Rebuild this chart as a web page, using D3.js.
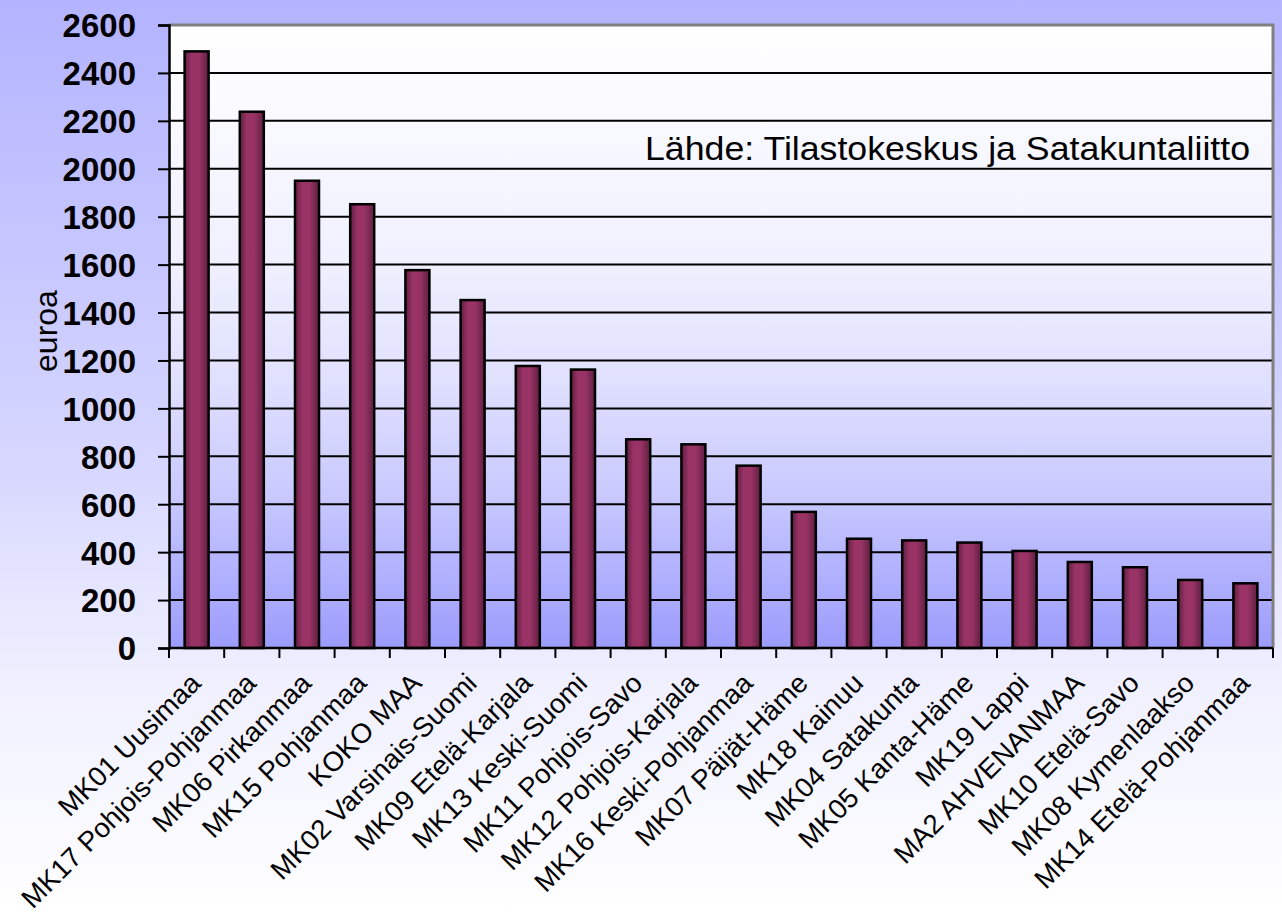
<!DOCTYPE html>
<html>
<head>
<meta charset="utf-8">
<script src="https://cdn.jsdelivr.net/npm/d3@7"></script>
<style>
html,body{margin:0;padding:0;}
body{width:1282px;height:915px;overflow:hidden;}
svg{display:block;font-family:"Liberation Sans",Arial,sans-serif;}
</style>
</head>
<body>
<svg id="chart" width="1282" height="915"></svg>
<script>
const categories = ["MK01 Uusimaa","MK17 Pohjois-Pohjanmaa","MK06 Pirkanmaa","MK15 Pohjanmaa","KOKO MAA","MK02 Varsinais-Suomi","MK09 Etelä-Karjala","MK13 Keski-Suomi","MK11 Pohjois-Savo","MK12 Pohjois-Karjala","MK16 Keski-Pohjanmaa","MK07 Päijät-Häme","MK18 Kainuu","MK04 Satakunta","MK05 Kanta-Häme","MK19 Lappi","MA2 AHVENANMAA","MK10 Etelä-Savo","MK08 Kymenlaakso","MK14 Etelä-Pohjanmaa"];
const values = [2490,2238,1950,1852,1577,1452,1177,1162,871,850,761,568,456,449,440,405,359,337,284,270];
const yTicks = [0,200,400,600,800,1000,1200,1400,1600,1800,2000,2200,2400,2600];
const yTitle = "euroa";
const sourceNote = "Lähde: Tilastokeskus ja Satakuntaliitto";

const svg = d3.select("#chart");
const W = 1282, H = 915;
const L = 169, R = 1273, T = 25, B = 648;

const defs = svg.append("defs");
const bg = defs.append("linearGradient").attr("id","bgGrad").attr("x1",0).attr("y1",0).attr("x2",0).attr("y2",1);
[[0,"#b3b3ff"],[0.5,"#d6d6ff"],[0.75,"#f0f0ff"],[1,"#ffffff"]].forEach(s=>bg.append("stop").attr("offset",s[0]).attr("stop-color",s[1]));
const pg = defs.append("linearGradient").attr("id","plotGrad").attr("x1",0).attr("y1",0).attr("x2",0).attr("y2",1);
[[0,"#ffffff"],[0.38,"#f0f0ff"],[0.57,"#e0e0ff"],[0.65,"#d6d6ff"],[0.76,"#c8c8ff"],[0.84,"#b8b8ff"],[1,"#9c9cfc"]].forEach(s=>pg.append("stop").attr("offset",s[0]).attr("stop-color",s[1]));
const bgGrad = defs.append("linearGradient").attr("id","barGrad").attr("x1",0).attr("y1",0).attr("x2",1).attr("y2",0);
[[0,"#5e1f3f"],[0.3,"#993366"],[0.6,"#993366"],[1,"#5e1f3f"]].forEach(s=>bgGrad.append("stop").attr("offset",s[0]).attr("stop-color",s[1]));

svg.append("rect").attr("width",W).attr("height",H).attr("fill","url(#bgGrad)");

const x = d3.scaleBand().domain(categories).range([L,R]).paddingInner(0.565).paddingOuter(0.2825);
const y = d3.scaleLinear().domain([0,2600]).range([B,T]);

svg.append("rect").attr("x",L).attr("y",T).attr("width",R-L).attr("height",B-T).attr("fill","url(#plotGrad)");

// gridlines
svg.append("g").selectAll("line").data(yTicks.filter(d=>d>0 && d<2600)).join("line")
  .attr("x1",L).attr("x2",R).attr("y1",d=>y(d)).attr("y2",d=>y(d))
  .attr("stroke","#000").attr("stroke-width",2);

// source note
svg.append("text").attr("x",1250).attr("y",160).attr("text-anchor","end")
  .attr("font-size",34).attr("textLength",605).attr("lengthAdjust","spacingAndGlyphs")
  .attr("fill","#000").text(sourceNote);

// plot border top/right
svg.append("path").attr("d",`M${L},${T}H${R}V${B}`).attr("fill","none").attr("stroke","#808080").attr("stroke-width",3);

// bars
svg.append("g").selectAll("rect").data(values).join("rect")
  .attr("x",(d,i)=>x(categories[i]))
  .attr("y",d=>y(d))
  .attr("width",x.bandwidth())
  .attr("height",d=>B-y(d))
  .attr("fill","url(#barGrad)").attr("stroke","#000").attr("stroke-width",2.5);

// y axis
const yAxis = d3.axisLeft(y).tickValues(yTicks).tickSize(11).tickPadding(22).tickFormat(d3.format("d"));
const ya = svg.append("g").attr("transform",`translate(${L},0)`).call(yAxis);
ya.select(".domain").attr("stroke","#000").attr("stroke-width",2.5);
ya.selectAll(".tick line").attr("stroke","#000").attr("stroke-width",2);
ya.selectAll(".tick text").attr("font-size",33).attr("font-weight","bold").attr("fill","#000")
  .attr("font-family","'Liberation Sans',Arial,sans-serif").attr("dy","0.36em");

// x axis line and band-boundary ticks
svg.append("line").attr("x1",L).attr("x2",R).attr("y1",B).attr("y2",B).attr("stroke","#000").attr("stroke-width",2.5);
const bounds = d3.range(categories.length+1).map(i=>L + i*x.step());
svg.append("g").selectAll("line").data(bounds).join("line")
  .attr("x1",d=>d).attr("x2",d=>d).attr("y1",B).attr("y2",B+10)
  .attr("stroke","#000").attr("stroke-width",2);

// category labels
svg.append("g").selectAll("text").data(categories).join("text")
  .attr("transform",d=>`translate(${x(d)+x.bandwidth()/2-1},678) rotate(-45)`)
  .attr("text-anchor","end").attr("dy","0.35em")
  .attr("font-size",27.5).attr("fill","#000").text(d=>d);

// y title
svg.append("text").attr("transform","translate(57,331) rotate(-90)")
  .attr("text-anchor","middle").attr("font-size",32).attr("fill","#000").text(yTitle);
</script>
</body>
</html>
